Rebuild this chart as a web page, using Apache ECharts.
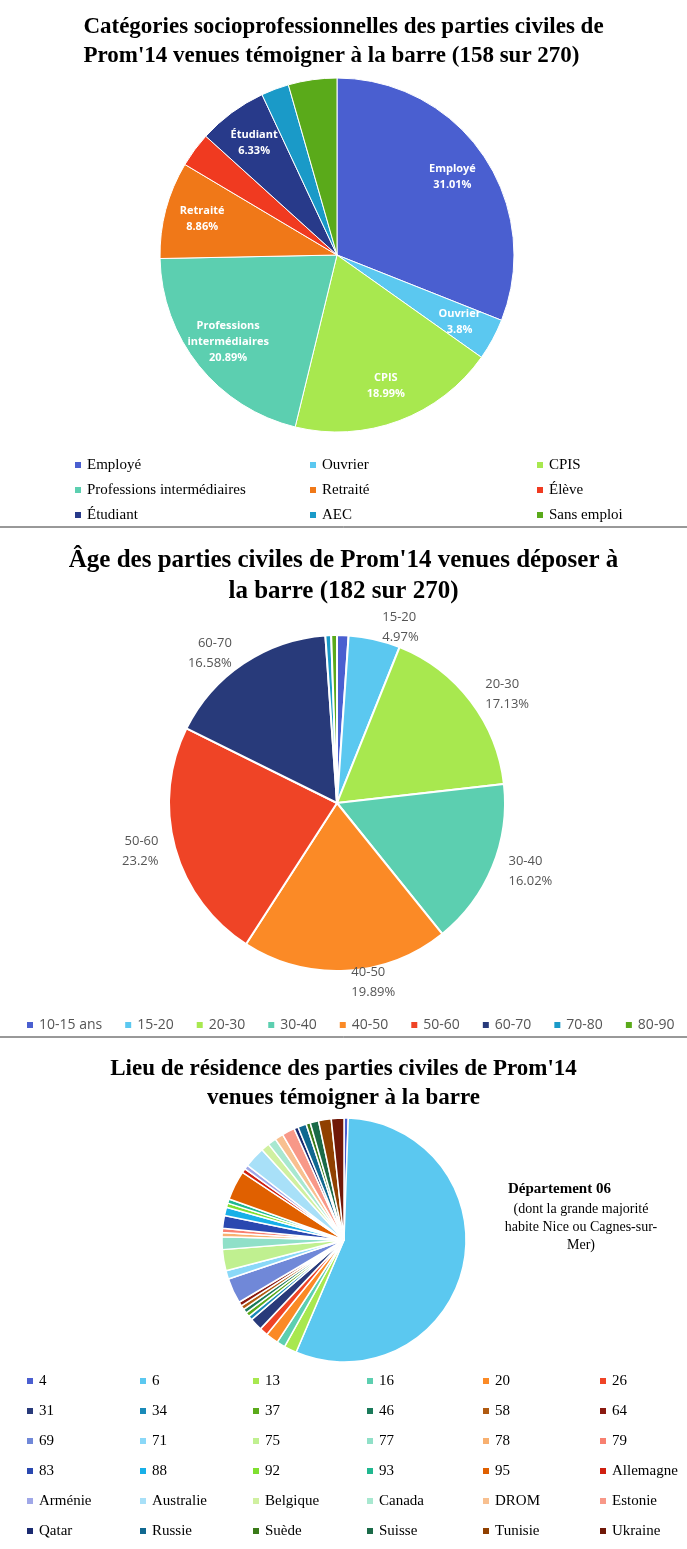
<!DOCTYPE html>
<html><head><meta charset="utf-8">
<script src="https://cdn.jsdelivr.net/npm/echarts@6/dist/echarts.min.js"></script>
<style>html,body{margin:0;padding:0;background:#fff}#c{width:687px;height:1549px}</style>
</head><body><div id="c"></div>
<script>
const catNames = ['Employé','Ouvrier','CPIS','Professions intermédiaires','Retraité','Élève','Étudiant','AEC','Sans emploi'];
const catValues = [49,6,30,33,14,5,10,4,7];
const catColors = ['#4a5fd0','#5bc8f0','#a8e84f','#5ccfb0','#f07818','#f03a20','#283a8a','#1a9ac8','#5aaa1a'];

const ageNames = ['10-15 ans','15-20','20-30','30-40','40-50','50-60','60-70','70-80','80-90'];
const ageValues = [2,9,31,29,36,42,30,1,1];
const ageColors = ['#4a5fd0','#5bc8f0','#a8e84f','#5ccfb0','#fb8a26','#ef4426','#283a7a','#1a9ac8','#5aaa1a'];

const resNames = ['4','6','13','16','20','26','31','34','37','46','58','64','69','71','75','77','78','79','83','88','92','93','95','Allemagne','Arménie','Australie','Belgique','Canada','DROM','Estonie','Qatar','Russie','Suède','Suisse','Tunisie','Ukraine'];
const resValues = [1,100,3,2,3,2,3,1,1,1,1,1,6,2,5,3,1,1,3,2,1,1,7,1,1,5,2,2,2,3,1,2,1,2,3,3];
const resColors = ['#4a5fd0','#5bc8f0','#a8e84f','#5ccfb0','#fb8a26','#ef4426','#283a7a','#1a8ab8','#5aaa1a','#1a7a5a','#b05a10','#8a1a10','#7088d8','#8ad8f8','#c0f090','#90e0c8','#f8b070','#f88070','#2a48b0','#18b0e8','#80e030','#20b890','#e06000','#d02010','#a0a8e8','#a8e0f8','#d0f0a0','#a8e8d0','#f8c090','#f89888','#1a2a70','#106890','#3a7a18','#1a6a48','#904000','#701808'];

const serif = 'Liberation Serif';
const hideCatLabel = ['Élève','AEC','Sans emploi'];
const hideAgeLabel = ['10-15 ans','70-80','80-90'];

const catData = catNames.map((n,i)=>({name:n,value:catValues[i],itemStyle:{color:catColors[i]}}));
const catLabelData = catNames.map((n,i)=>{
  const d={name:n,value:catValues[i],itemStyle:{color:'rgba(0,0,0,0)',borderWidth:0}};
  if(hideCatLabel.includes(n)) d.label={show:false};
  if(n==='Professions intermédiaires') d.label={formatter:'Professions\nintermédiaires\n{d}%'};
  return d;
});
const ageData = ageNames.map((n,i)=>{
  const d={name:n,value:ageValues[i],itemStyle:{color:ageColors[i]}};
  if(hideAgeLabel.includes(n)) d.label={show:false};
  return d;
});
const resData = resNames.map((n,i)=>({name:n,value:resValues[i],itemStyle:{color:resColors[i]}}));

const legendBase = {orient:'vertical',icon:'rect',itemWidth:8,itemHeight:8,itemGap:9,selectedMode:false,
  textStyle:{fontFamily:serif,fontSize:15,color:'#000',lineHeight:16}};
const legends = [];
[68,303,530].forEach((x,c)=>{
  legends.push(Object.assign({},legendBase,{left:x,top:452,data:[0,1,2].map(r=>catNames[r*3+c])}));
});
legends.push({orient:'horizontal',left:20,top:1013,icon:'rect',itemWidth:8,itemHeight:8,itemGap:21,selectedMode:false,
  textStyle:{fontFamily:'Open Sans',fontSize:14,color:'#555'},data:ageNames});
[20,133,246,360,476,593].forEach((x,c)=>{
  legends.push(Object.assign({},legendBase,{left:x,top:1368,itemGap:14,data:[0,1,2,3,4,5].map(r=>resNames[r*6+c])}));
});

const chart = echarts.init(document.getElementById('c'));
chart.setOption({
  animation:false,
  title:[
    {text:"Catégories socioprofessionnelles des parties civiles de\nProm'14 venues témoigner à la barre (158 sur 270)",left:'center',top:8,textAlign:'left',
     textStyle:{fontFamily:serif,fontWeight:'bold',fontSize:23,lineHeight:29,color:'#000'}},
    {text:"Âge des parties civiles de Prom'14 venues déposer à\nla barre (182 sur 270)",left:'center',top:540,
     textStyle:{fontFamily:serif,fontWeight:'bold',fontSize:25,lineHeight:31,color:'#000'}},
    {text:"Lieu de résidence des parties civiles de Prom'14\nvenues témoigner à la barre",left:'center',top:1050,
     textStyle:{fontFamily:serif,fontWeight:'bold',fontSize:23,lineHeight:29,color:'#000'}}
  ],
  legend:legends,
  graphic:[
    {type:'line',shape:{x1:0,y1:527,x2:687,y2:527},style:{stroke:'#333',lineWidth:1}},
    {type:'line',shape:{x1:0,y1:1037,x2:687,y2:1037},style:{stroke:'#333',lineWidth:1}},
    {type:'text',left:508,top:1182,style:{text:'Département 06',font:'bold 15px "Liberation Serif"',fill:'#000'}},
    {type:'text',x:581,y:1200,style:{text:'(dont la grande majorité\nhabite Nice ou Cagnes-sur-\nMer)',font:'14px "Liberation Serif"',fill:'#000',align:'center',lineHeight:18}}
  ],
  series:[
    {type:'pie',center:[337,255],radius:[0,177],data:catData,label:{show:false},labelLine:{show:false},
     itemStyle:{borderColor:'#fff',borderWidth:1}},
    {type:'pie',center:[337,255],radius:[96,177],data:catLabelData,silent:true,labelLine:{show:false},
     label:{show:true,position:'inside',formatter:'{b}\n{d}%',color:'#fff',fontFamily:'Open Sans',fontWeight:'bold',fontSize:11,lineHeight:16}},
    {type:'pie',center:[337,803],radius:[0,168],data:ageData,
     itemStyle:{borderColor:'#fff',borderWidth:2},
     label:{show:true,position:'outside',formatter:'{b}\n{d}%',color:'#555',fontFamily:'Open Sans',fontSize:13,lineHeight:20,alignTo:'none'},
     labelLine:{show:false,length:12,length2:0}},
    {type:'pie',center:[344,1240],radius:[0,122],data:resData,label:{show:false},labelLine:{show:false},
     itemStyle:{borderColor:'#fff',borderWidth:1.5}}
  ]
});
</script></body></html>
